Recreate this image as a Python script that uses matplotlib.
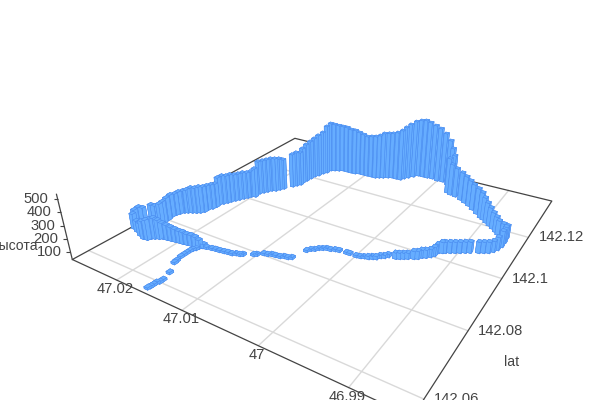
import numpy as np
import matplotlib
matplotlib.use("Agg")
import matplotlib.pyplot as plt
from mpl_toolkits.mplot3d import proj3d

plt.rcParams["font.family"] = ["Liberation Sans", "DejaVu Sans"]

# Track: tail, south shore, east side, north wall, west end
lat = [
    142.0572, 142.0578, 142.0586, 142.0594, 142.0600, 142.0609, 142.0636, 142.0669, 142.0677, 142.0694,
    142.0704, 142.0713, 142.0723, 142.0730, 142.0737, 142.0744, 142.0751, 142.0754, 142.0757, 142.0759,
    142.0760, 142.0762, 142.0764, 142.0765, 142.0770, 142.0772, 142.0776, 142.0789, 142.0793, 142.0804,
    142.0806, 142.0811, 142.0812, 142.0814, 142.0819, 142.0820, 142.0825, 142.0867, 142.0876, 142.0881,
    142.0889, 142.0894, 142.0899, 142.0900, 142.0905, 142.0907, 142.0909, 142.0909, 142.0909, 142.0911,
    142.0915, 142.0917, 142.0922, 142.0926, 142.0935, 142.0940, 142.0948, 142.0951, 142.0955, 142.0960,
    142.0965, 142.0972, 142.0977, 142.0986, 142.0991, 142.0999, 142.1008, 142.1024, 142.1029, 142.1033,
    142.1039, 142.1045, 142.1051, 142.1058, 142.1064, 142.1074, 142.1080, 142.1086, 142.1096, 142.1109,
    142.1127, 142.1148, 142.1169, 142.1168, 142.1176, 142.1186, 142.1197, 142.1207, 142.1217, 142.1228,
    142.1234, 142.1249, 142.1264, 142.1279, 142.1290, 142.1300, 142.1310, 142.1314, 142.1321, 142.1339,
    142.1354, 142.1367, 142.1378, 142.1376, 142.1381, 142.1379, 142.1379, 142.1378, 142.1364, 142.1350,
    142.1338, 142.1326, 142.1325, 142.1325, 142.1319, 142.1311, 142.1305, 142.1299, 142.1299, 142.1298,
    142.1298, 142.1298, 142.1292, 142.1291, 142.1291, 142.1291, 142.1284, 142.1278, 142.1272, 142.1254,
    142.1242, 142.1224, 142.1212, 142.1195, 142.1177, 142.1161, 142.1147, 142.1136, 142.1125, 142.1101,
    142.1090, 142.1079, 142.1073, 142.1062, 142.1052, 142.1041, 142.1021, 142.1015, 142.1005, 142.0995,
    142.0984, 142.0974, 142.0964, 142.0954, 142.0944, 142.0934, 142.0921, 142.0908, 142.0898, 142.0884,
    142.0875, 142.0869, 142.0864, 142.0858, 142.0853, 142.0843, 142.0834, 142.0821, 142.0804, 142.0788,
    142.0777, 142.0785, 142.0776, 142.0758, 142.0749, 142.0737, 142.0728, 142.0722, 142.0713, 142.0707,
    142.0709, 142.0717, 142.0722, 142.0727, 142.0732, 142.0734, 142.0736, 142.0738, 142.0740, 142.0741,
    142.0743, 142.0745, 142.0747, 142.0748, 142.0753,
]
lon = [
    47.0159, 47.0158, 47.0158, 47.0158, 47.0156, 47.0156, 47.0160, 47.0170, 47.0171, 47.0173,
    47.0173, 47.0173, 47.0173, 47.0172, 47.0170, 47.0169, 47.0167, 47.0161, 47.0154, 47.0149,
    47.0143, 47.0137, 47.0132, 47.0126, 47.0122, 47.0117, 47.0114, 47.0103, 47.0100, 47.0094,
    47.0089, 47.0085, 47.0080, 47.0074, 47.0070, 47.0065, 47.0061, 47.0055, 47.0052, 47.0048,
    47.0045, 47.0041, 47.0037, 47.0032, 47.0027, 47.0022, 47.0012, 47.0008, 46.9999, 46.9994,
    46.9990, 46.9985, 46.9981, 46.9977, 46.9974, 46.9970, 46.9967, 46.9958, 46.9954, 46.9950,
    46.9946, 46.9940, 46.9936, 46.9933, 46.9929, 46.9925, 46.9922, 46.9921, 46.9917, 46.9914,
    46.9909, 46.9904, 46.9899, 46.9894, 46.9889, 46.9880, 46.9875, 46.9870, 46.9866, 46.9863,
    46.9861, 46.9861, 46.9862, 46.9867, 46.9874, 46.9879, 46.9885, 46.9891, 46.9897, 46.9903,
    46.9908, 46.9916, 46.9925, 46.9933, 46.9941, 46.9949, 46.9959, 46.9967, 46.9973, 46.9970,
    46.9976, 46.9983, 46.9993, 47.0001, 47.0010, 47.0018, 47.0025, 47.0032, 47.0037, 47.0042,
    47.0046, 47.0049, 47.0056, 47.0063, 47.0068, 47.0074, 47.0079, 47.0084, 47.0091, 47.0098,
    47.0105, 47.0112, 47.0117, 47.0124, 47.0131, 47.0138, 47.0143, 47.0149, 47.0154, 47.0155,
    47.0158, 47.0160, 47.0163, 47.0164, 47.0165, 47.0166, 47.0165, 47.0168, 47.0171, 47.0178,
    47.0181, 47.0184, 47.0189, 47.0192, 47.0195, 47.0198, 47.0197, 47.0202, 47.0204, 47.0207,
    47.0210, 47.0213, 47.0216, 47.0218, 47.0221, 47.0224, 47.0223, 47.0224, 47.0227, 47.0227,
    47.0230, 47.0234, 47.0239, 47.0244, 47.0248, 47.0251, 47.0253, 47.0254, 47.0252, 47.0251,
    47.0250, 47.0264, 47.0266, 47.0271, 47.0273, 47.0274, 47.0272, 47.0263, 47.0252, 47.0243,
    47.0237, 47.0235, 47.0231, 47.0226, 47.0222, 47.0216, 47.0210, 47.0204, 47.0198, 47.0193,
    47.0187, 47.0181, 47.0175, 47.0170, 47.0165,
]
altitude = [
    55, 55, 55, 55, 55, 55, 56, 56, 56, 56,
    56, 56, 56, 56, 56, 56, 56, 56, 56, 56,
    56, 56, 56, 56, 56, 56, 56, 56, 56, 56,
    56, 56, 56, 56, 56, 56, 56, 56, 56, 56,
    56, 56, 56, 56, 56, 56, 56, 56, 56, 56,
    56, 64, 64, 64, 64, 64, 64, 88, 88, 88,
    88, 103, 103, 104, 104, 104, 112, 112, 128, 128,
    128, 128, 128, 128, 128, 128, 128, 128, 128, 144,
    169, 170, 147, 155, 156, 165, 174, 191, 208, 226,
    252, 254, 256, 258, 268, 278, 288, 307, 343, 353,
    390, 436, 474, 510, 521, 540, 550, 543, 541, 523,
    504, 485, 460, 444, 444, 444, 426, 417, 409, 401,
    411, 421, 439, 440, 450, 451, 460, 469, 478, 467,
    421, 410, 391, 380, 370, 350, 331, 339, 330, 302,
    319, 327, 327, 326, 325, 325, 288, 262, 262, 270,
    269, 269, 277, 276, 284, 275, 240, 248, 247, 255,
    262, 254, 254, 237, 229, 228, 220, 227, 226, 217,
    216, 167, 184, 175, 191, 182, 165, 132, 147, 187,
    203, 203, 211, 195, 171, 163, 154, 146, 138, 138,
    129, 129, 121, 105, 72,
]

lat_ticks = [142.06, 142.08, 142.10, 142.12]
lon_ticks = [46.99, 47.0, 47.01, 47.02]
alt_ticks = [100, 200, 300, 400, 500]

lat_lo, lat_hi = 142.0556, 142.142
lon_lo, lon_hi = 46.9839, 47.0277
alt_lo, alt_hi = 40, 530

GRID = "#d9d9d9"
AXIS = "#444444"
BAR = "#66adff"
BAR_EDGE = "#4a8cf0"
FS = 10.6

fig = plt.figure(figsize=(6, 4), dpi=100)
ax = fig.add_axes([0.1327, -0.12756, 0.82097, 1.23146], projection="3d")
ax.computed_zorder = False
ax.set_xlim(lat_lo, lat_hi)
ax.set_ylim(lon_lo, lon_hi)
ax.set_zlim(alt_lo, alt_hi)
ax.view_init(elev=27.59, azim=-147.788, roll=0)
ax.set_proj_type("persp", focal_length=float(np.exp(-1.503)))
ax.set_box_aspect((1, float(np.exp(-0.025)), float(np.exp(-1.654))))
ax.set_axis_off()
M = ax.get_proj()


def label(x, y, z, s, dx, dy, ha, size=FS):
    px, py, _ = proj3d.proj_transform(x, y, z, M)
    ax.annotate(s, xy=(px, py), xytext=(dx, dy), textcoords="offset pixels", ha=ha, va="center",
                color=AXIS, fontsize=size, annotation_clip=False, zorder=4)


# floor grid and axes
for v in lat_ticks:
    ax.plot([v, v], [lon_lo, lon_hi], [alt_lo, alt_lo], color=GRID, lw=1, zorder=1, clip_on=False)
    label(v, lon_lo, alt_lo, f"{v:g}", 10, 0, "left")
for v in lon_ticks:
    ax.plot([lat_lo, lat_hi], [v, v], [alt_lo, alt_lo], color=GRID, lw=1, zorder=1, clip_on=False)
    label(lat_lo, v, alt_lo, f"{v:g}", -1, -9, "center")
ax.plot([lat_lo, lat_hi, lat_hi, lat_lo, lat_lo], [lon_lo, lon_lo, lon_hi, lon_hi, lon_lo],
        [alt_lo] * 5, color=AXIS, lw=0.9, zorder=2, clip_on=False)
ax.plot([lat_lo, lat_lo], [lon_hi, lon_hi], [alt_lo, alt_hi], color=AXIS, lw=0.9, zorder=2, clip_on=False)
for v in alt_ticks:
    ax.plot([lat_lo], [lon_hi], [v], marker=0, ms=3, mew=0.8, color=AXIS, zorder=2, clip_on=False)
    label(lat_lo, lon_hi, v, str(v), -9, 0, "right")
label(lat_lo, lon_hi, 150, "высота", -31, 0, "right", FS * 0.95)
label(142.07, lon_lo, alt_lo, "lat", 64, 0, "center", FS * 0.95)

# one box per track point
w_lat, w_lon = 0.0012, 0.00055
heights = np.array(altitude) - alt_lo
ax.bar3d(np.array(lat) - w_lat / 2, np.array(lon) - w_lon / 2, alt_lo, w_lat, w_lon, heights,
         color=BAR, edgecolor=BAR_EDGE, linewidth=0.35, shade=False, zorder=3)

fig.savefig("out.png", dpi=100)
